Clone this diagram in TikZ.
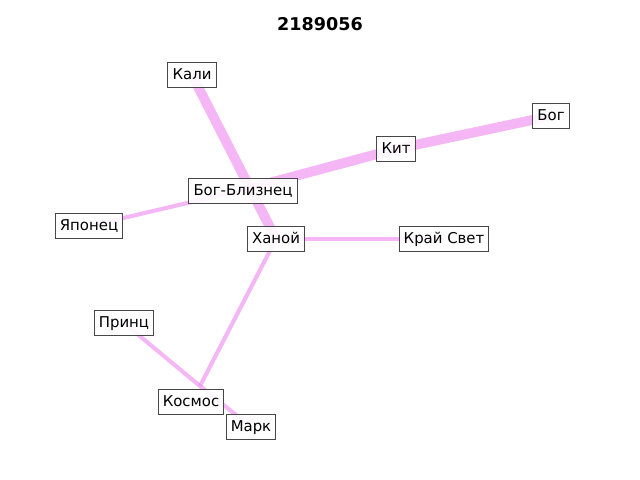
\documentclass[tikz,border=0pt]{standalone}
\usepackage{fontspec}
\setmainfont{DejaVu Sans}
\definecolor{nxviolet}{RGB}{238,130,238}
\tikzset{cityname/.style={draw=black!72,line width=0.7pt,fill=white,fill opacity=0.9,text opacity=1,
  inner xsep=3.3pt,inner ysep=4.2pt,text height=7.8pt,text depth=2.1pt,font=\fontsize{10.6}{12}\selectfont},
thinlink/.style={draw=nxviolet,draw opacity=0.58,line width=2.9pt},
thicklink/.style={draw=nxviolet,draw opacity=0.58,line width=7pt}}
\begin{document}
\begin{tikzpicture}[x=0.025cm,y=-0.025cm]
\useasboundingbox (0,0) rectangle (640,480);
\node[font=\fontsize{12.5}{14}\selectfont\bfseries] (title) at (320,24){2189056};
% nodes
\coordinate (kali) at (192,75);
\coordinate (bog) at (551,116);
\coordinate (kit) at (396,149);
\coordinate (bliz) at (243,190);
\coordinate (yap) at (89,226);
\coordinate (hanoi) at (276,239);
\coordinate (kray) at (444,239);
\coordinate (prinz) at (124,323);
\coordinate (kosmos) at (200,386);
\coordinate (mark) at (251,427);
% edges
\draw[thicklink] (kali)--(hanoi);
\draw[thicklink] (bog)--(kit);
\draw[thicklink] (kit)--(bliz);
\draw[thinlink] (bliz)--(yap);
\draw[thinlink] (hanoi)--(kray);
\draw[thinlink] (hanoi)--(kosmos);
\draw[thinlink] (prinz)--(kosmos);
\draw[thinlink] (kosmos)--(mark);
% labels
\node[cityname] (kalilbl) at (kali){Кали};
\node[cityname] (boglbl) at (bog){Бог};
\node[cityname] (kitlbl) at (kit){Кит};
\node[cityname] (blizlbl) at (243,191){Бог-Близнец};
\node[cityname] (yaplbl) at (yap){Японец};
\node[cityname] (hanoilbl) at (hanoi){Ханой};
\node[cityname] (kraylbl) at (kray){Край Свет};
\node[cityname] (prinzlbl) at (prinz){Принц};
\node[cityname] (kosmoslbl) at (191,402){Космос};
\node[cityname] (marklbl) at (mark){Марк};
\end{tikzpicture}
\end{document}
